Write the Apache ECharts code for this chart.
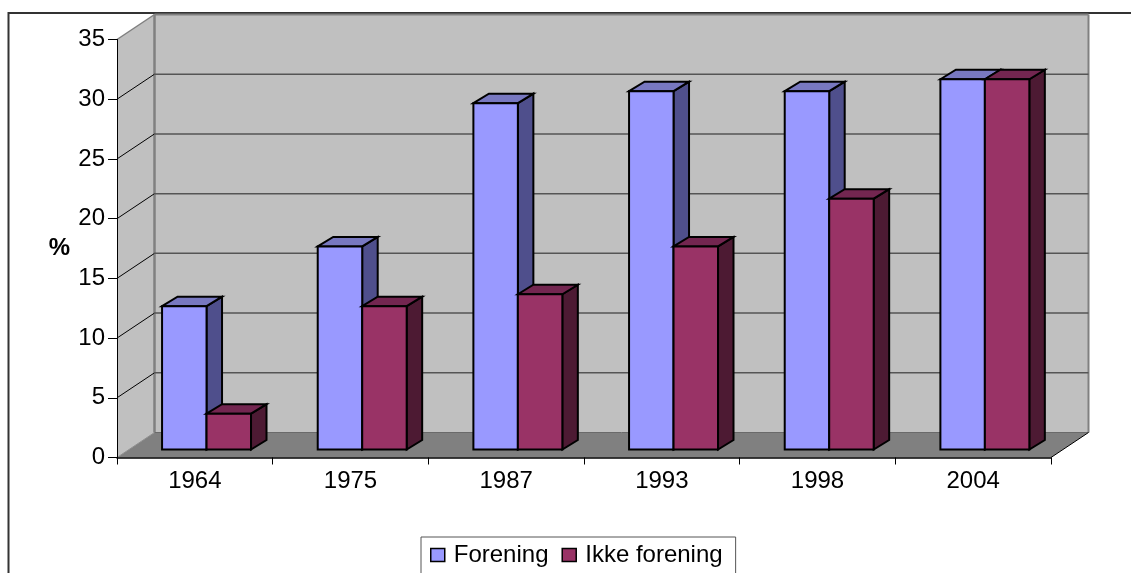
<!DOCTYPE html>
<html><head><meta charset="utf-8">
<style>html,body{margin:0;padding:0;background:#fff}#c{width:1131px;height:573px}</style>
<script src="https://cdn.jsdelivr.net/npm/echarts@6/dist/echarts.min.js"></script>
</head><body><div id="c"></div>
<script>
const categories = ['1964','1975','1987','1993','1998','2004'];
const forening = [12,17,29,30,30,31];
const ikkeForening = [3,12,13,17,21,31];
const yTicks = [0,5,10,15,20,25,30,35];

const font = '"Liberation Sans", Arial, sans-serif';
const wallDx = 37.5, wallDy = -25;
const barDx = 11.7, barDy = -8, barSideDx = 15.5, barSideDy = -9.5, barFrac = 0.2857;

function poly(points, fill, stroke, lw, z2){
  return {type:'polygon', z2:z2||0, shape:{points}, style:{fill, stroke:stroke||'none', lineWidth:lw||0, lineJoin:'miter'}};
}
function line(a, b, stroke, lw, z2){
  return {type:'line', z2:z2||1, shape:{x1:a[0],y1:a[1],x2:b[0],y2:b[1]}, style:{stroke, lineWidth:lw}};
}
function wallsItem(params){
  const g = params.coordSys, L=g.x, R=g.x+g.width, T=g.y, B=g.y+g.height;
  const bL=L+wallDx, bR=R+wallDx, bT=T+wallDy, bB=B+wallDy;
  return {type:'group', children:[
    poly([[bL,bT],[bR,bT],[bR,bB],[bL,bB]], '#c0c0c0'),
    poly([[L,T],[bL,bT],[bL,bB],[L,B]], '#c0c0c0'),
    poly([[L,B],[R,B],[bR,bB],[bL,bB]], '#808080'),
    line([L,T],[bL,bT],'#808080',1.5),
    line([bL,bT],[bL,bB],'#808080',2.5),
    line([bR,bT],[bR,bB],'#808080',2),
    line([bL,bT],[bR,bT],'#808080',2),
    line([L,B],[bL,bB],'#909090',1),
    line([bL,bB],[bR,bB],'#6a6a6a',1),
    line([R,B],[bR,bB],'#000000',1)
  ]};
}
function gridItem(params, api){
  const g = params.coordSys, v = api.value(0);
  const y = api.coord([0, v])[1];
  const L=g.x, R=g.x+g.width;
  if (v === 0 || v === 35) return {type:'group', children:[]};
  return {type:'group', children:[
    line([L,y],[L+wallDx,y+wallDy],'#000000',1),
    line([L+wallDx,y+wallDy],[R+wallDx,y+wallDy],'#555555',1.5)
  ]};
}
function barItem(slot, front, side, top){
  return function(params, api){
    const band = api.size([1,0])[0];
    const w = band*barFrac;
    const c = api.coord([api.value(0), api.value(1)]);
    const base = api.coord([api.value(0), 0]);
    const x0 = c[0] + barDx + (slot===0 ? -w : 0), x1 = x0 + w;
    const yT = c[1] + barDy, yB = base[1] + barDy;
    const sx = barSideDx, sy = barSideDy, k='#000000', lw=2;
    return {type:'group', children:[
      poly([[x1,yT],[x1+sx,yT+sy],[x1+sx,yB+sy],[x1,yB]], side, k, lw),
      poly([[x0,yT],[x0+sx,yT+sy],[x1+sx,yT+sy],[x1,yT]], top, k, lw),
      poly([[x0,yT],[x1,yT],[x1,yB],[x0,yB]], front, k, lw)
    ]};
  };
}
const chart = echarts.init(document.getElementById('c'), null, {renderer:'canvas'});
chart.setOption({
  animation:false,
  backgroundColor:'#ffffff',
  graphic:[{type:'rect', z:-10, silent:true, shape:{x:8.5,y:13,width:1300,height:800}, style:{fill:'none',stroke:'#333333',lineWidth:2}}],
  grid:{left:117, top:39.5, width:934, height:418, containLabel:false},
  xAxis:{type:'category', data:categories, boundaryGap:true,
    axisLine:{show:true,lineStyle:{color:'#000',width:1.5}},
    axisTick:{show:true,alignWithLabel:false,length:7,lineStyle:{color:'#000',width:1}},
    axisLabel:{color:'#000',fontFamily:font,fontSize:24,margin:12},
    splitLine:{show:false}, z:5},
  yAxis:{type:'value', min:0, max:35, interval:5, name:'%', nameLocation:'middle', nameRotate:0, nameGap:47,
    nameTextStyle:{color:'#000',fontFamily:font,fontSize:24,fontWeight:'bold'},
    axisLine:{show:true,lineStyle:{color:'#000',width:1}},
    axisTick:{show:true,length:9,lineStyle:{color:'#000',width:1}},
    axisLabel:{color:'#000',fontFamily:font,fontSize:24,margin:12},
    splitLine:{show:false}, z:5},
  legend:{left:421, top:537, orient:'horizontal', itemWidth:14, itemHeight:13, itemGap:13,
    padding:[6,13,24,9], backgroundColor:'#fff', borderColor:'#555', borderWidth:1, borderRadius:0,
    selectedMode:false, textStyle:{color:'#000',fontFamily:font,fontSize:24, padding:[0,0,0,4]},
    data:[
      {name:'Forening',icon:'rect',itemStyle:{color:'#9999ff',borderColor:'#000',borderWidth:1.5}},
      {name:'Ikke forening',icon:'rect',itemStyle:{color:'#993366',borderColor:'#000',borderWidth:1.5}}
    ]},
  series:[
    {type:'custom',name:'walls',coordinateSystem:'cartesian2d',silent:true,z:1,data:[[0,0]],renderItem:wallsItem,encode:{x:0,y:1}},
    {type:'custom',name:'grid',coordinateSystem:'cartesian2d',silent:true,z:2,data:yTicks.map(v=>[v]),renderItem:gridItem,encode:{y:0}},
    {type:'custom',name:'Forening',coordinateSystem:'cartesian2d',z:3,itemStyle:{color:'#9999ff'},
      data:forening.map((v,i)=>[i,v]),encode:{x:0,y:1},renderItem:barItem(0,'#9999ff','#4f4f8c','#7878c0')},
    {type:'custom',name:'Ikke forening',coordinateSystem:'cartesian2d',z:4,itemStyle:{color:'#993366'},
      data:ikkeForening.map((v,i)=>[i,v]),encode:{x:0,y:1},renderItem:barItem(1,'#993366','#4d1a33','#732650')}
  ]
});
</script></body></html>
